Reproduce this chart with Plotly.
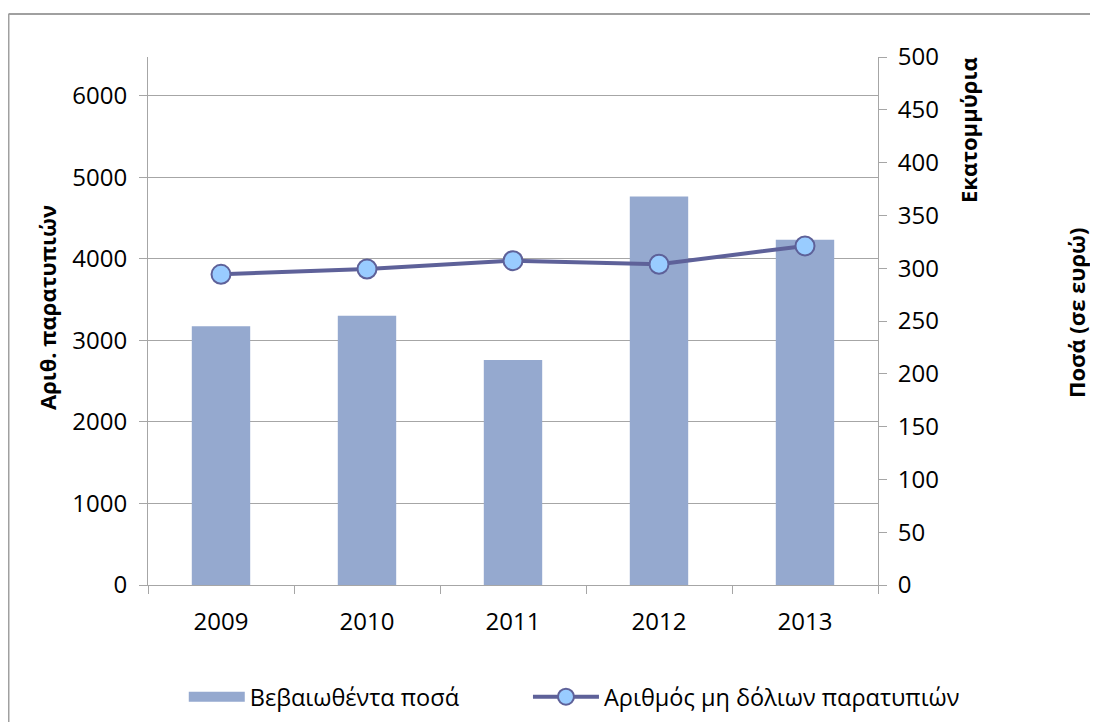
import plotly.graph_objects as go

# Values
years = ['2009', '2010', '2011', '2012', '2013']
amounts_millions = [245, 255, 213, 368, 327]  # bars, right axis
irregularities = [3812, 3877, 3979, 3935, 4160]  # line, left axis

bar_name = 'Βεβαιωθέντα ποσά'
line_name = 'Αριθμός μη δόλιων παρατυπιών'

FONT = 'Open Sans'
GRID = '#a6a6a6'
BAR_COLOR = '#95a9cf'
LINE_COLOR = '#5e6199'
LEFT_MAX = 6478
TICK_SIZE = 24
LEGEND_SIZE = 23.5

fig = go.Figure()

# bars on the right-hand scale (main y axis)
fig.add_trace(go.Bar(
    x=years, y=amounts_millions, name=bar_name, yaxis='y',
    marker=dict(color=BAR_COLOR, line=dict(width=0)),
    showlegend=False,
))
# legend entry for the bars (wide swatch like the original)
fig.add_trace(go.Scatter(
    x=[None], y=[None], name=bar_name, yaxis='y', mode='lines',
    line=dict(color=BAR_COLOR, width=11), legend='legend',
))

# line on the left-hand scale, overlaid so it sits above the bars
fig.add_trace(go.Scatter(
    x=years, y=irregularities, name=line_name, yaxis='y2',
    mode='lines+markers',
    line=dict(color=LINE_COLOR, width=4),
    marker=dict(size=19, color='#99ccff', line=dict(color=LINE_COLOR, width=2)),
    legend='legend2',
))

fig.update_layout(
    width=1090, height=714,
    margin=dict(l=140, r=220, t=49, b=137, autoexpand=False),
    paper_bgcolor='white', plot_bgcolor='white',
    font=dict(family=FONT, size=TICK_SIZE, color='black'),
    bargap=0.6,
    showlegend=True,
    legend=dict(
        orientation='h', x=0.049, xanchor='left', y=-0.212, yanchor='middle',
        font=dict(size=LEGEND_SIZE), itemwidth=56,
    ),
    legend2=dict(
        orientation='h', x=0.5205, xanchor='left', y=-0.212, yanchor='middle',
        font=dict(size=LEGEND_SIZE), itemwidth=66,
    ),
    xaxis=dict(
        type='category', showline=True, linecolor=GRID, linewidth=1,
        ticks='outside', tickson='boundaries', ticklen=8, tickcolor=GRID,
        showgrid=False, ticklabelstandoff=15,
    ),
    yaxis=dict(
        range=[0, 500], dtick=50, side='right', anchor='x',
        showline=True, linecolor=GRID, ticks='outside', ticklen=8,
        tickcolor=GRID, showgrid=False, zeroline=False,
        ticklabelstandoff=6,
    ),
    yaxis2=dict(
        range=[0, LEFT_MAX], dtick=1000, overlaying='y', side='left',
        anchor='x', showline=True, linecolor=GRID,
        ticks='outside', ticklen=8, tickcolor=GRID,
        showgrid=True, gridcolor=GRID, zeroline=False,
        ticklabelstandoff=7,
    ),
    annotations=[
        dict(text='<b>Αριθ. παρατυπιών</b>', xref='paper', yref='paper',
             x=-0.1384, y=0.5265, xanchor='center', yanchor='middle',
             textangle=-90, showarrow=False, font=dict(size=22)),
        dict(text='<b>Εκατομμύρια</b>', xref='paper', yref='paper',
             x=1.1233, y=0.8617, xanchor='center', yanchor='middle',
             textangle=-90, showarrow=False, font=dict(size=22)),
        dict(text='<b>Ποσά (σε ευρώ)</b>', xref='paper', yref='paper',
             x=1.2712, y=0.517, xanchor='center', yanchor='middle',
             textangle=-90, showarrow=False, font=dict(size=22)),
    ],
    shapes=[
        # chart area border (top and left edges visible)
        dict(type='line', xref='paper', yref='paper', x0=-0.1911, x1=1.31,
             y0=1.0814, y1=1.0814, line=dict(color='#a0a0a0', width=2)),
        dict(type='line', xref='paper', yref='paper', x0=-0.1911, x1=-0.1911,
             y0=-0.3, y1=1.0814, line=dict(color='#a0a0a0', width=2)),
    ],
)

fig.write_html('out.html')
